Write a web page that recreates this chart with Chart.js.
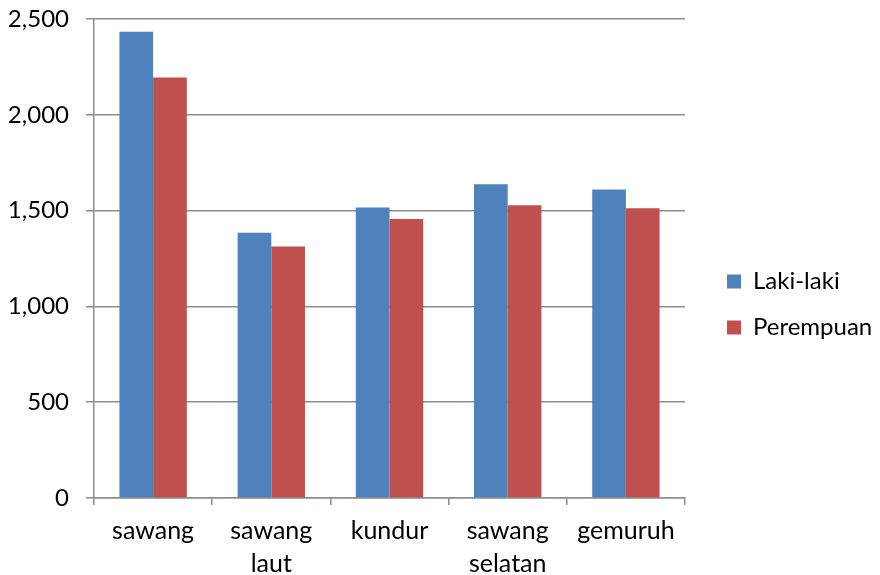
<!DOCTYPE html>
<html>
<head>
<meta charset="utf-8">
<script src="https://cdn.jsdelivr.net/npm/chart.js@4/dist/chart.umd.min.js"></script>
<style>
html,body{margin:0;padding:0;background:#fff;}
#wrap{width:880px;height:575px;}
</style>
</head>
<body>
<div id="wrap"><canvas id="c" width="880" height="575"></canvas></div>
<script>
const categories = [['sawang'], ['sawang', 'laut'], ['kundur'], ['sawang', 'selatan'], ['gemuruh']];
const seriesNames = ['Laki-laki', 'Perempuan'];
const lakiLaki = [2434, 1385, 1516, 1638, 1610];
const perempuan = [2195, 1312, 1456, 1528, 1512];
const yTicks = [0, 500, 1000, 1500, 2000, 2500];

const gridColor = '#8c8c8c';
const fontFamily = 'Lato, "Open Sans", sans-serif';

const legendFix = {
  id: 'legendFix',
  beforeLayout(chart) {
    const lg = chart.legend;
    if (lg && !lg._patched) {
      const orig = lg.fit.bind(lg);
      lg.fit = function () { orig(); this.width = 195; };
      lg._patched = true;
    }
  },
  afterLayout(chart) {
    const lg = chart.legend;
    if (lg) { lg.left += 20; }
  }
};

new Chart(document.getElementById('c'), {
  type: 'bar',
  data: {
    labels: categories,
    datasets: [
      { label: seriesNames[0], data: lakiLaki, backgroundColor: '#4F81BD', borderWidth: 0 },
      { label: seriesNames[1], data: perempuan, backgroundColor: '#C0504D', borderWidth: 0 }
    ]
  },
  plugins: [legendFix],
  options: {
    responsive: false,
    animation: false,
    devicePixelRatio: 1,
    layout: { padding: { left: 0, right: 0, top: 19, bottom: -15 } },
    datasets: { bar: { categoryPercentage: 0.57, barPercentage: 1.0 } },
    plugins: {
      legend: {
        position: 'right',
        align: 'center',
        labels: {
          boxWidth: 14,
          boxHeight: 14,
          padding: 22,
          color: '#000',
          font: { family: fontFamily, size: 24 }
        }
      },
      tooltip: { enabled: false }
    },
    scales: {
      x: {
        offset: true,
        grid: { offset: true, drawOnChartArea: false, drawTicks: true, tickLength: 7, color: gridColor, lineWidth: 1.5 },
        border: { color: gridColor, width: 1.5 },
        ticks: { color: '#000', font: { family: fontFamily, size: 25, lineHeight: 1.3 }, padding: 10, maxRotation: 0 }
      },
      y: {
        min: 0,
        max: 2500,
        afterBuildTicks: (scale) => { scale.ticks = yTicks.map(v => ({ value: v })); },
        afterFit: (scale) => { scale.width = 94; scale.paddingTop = 0; scale.paddingBottom = 0; },
        grid: { color: gridColor, lineWidth: 1.5, tickLength: 8 },
        border: { color: gridColor, width: 1.5 },
        ticks: {
          color: '#000',
          font: { family: fontFamily, size: 24 },
          padding: 17,
          callback: (v) => v.toLocaleString('en-US')
        }
      }
    }
  }
});
</script>
</body>
</html>
